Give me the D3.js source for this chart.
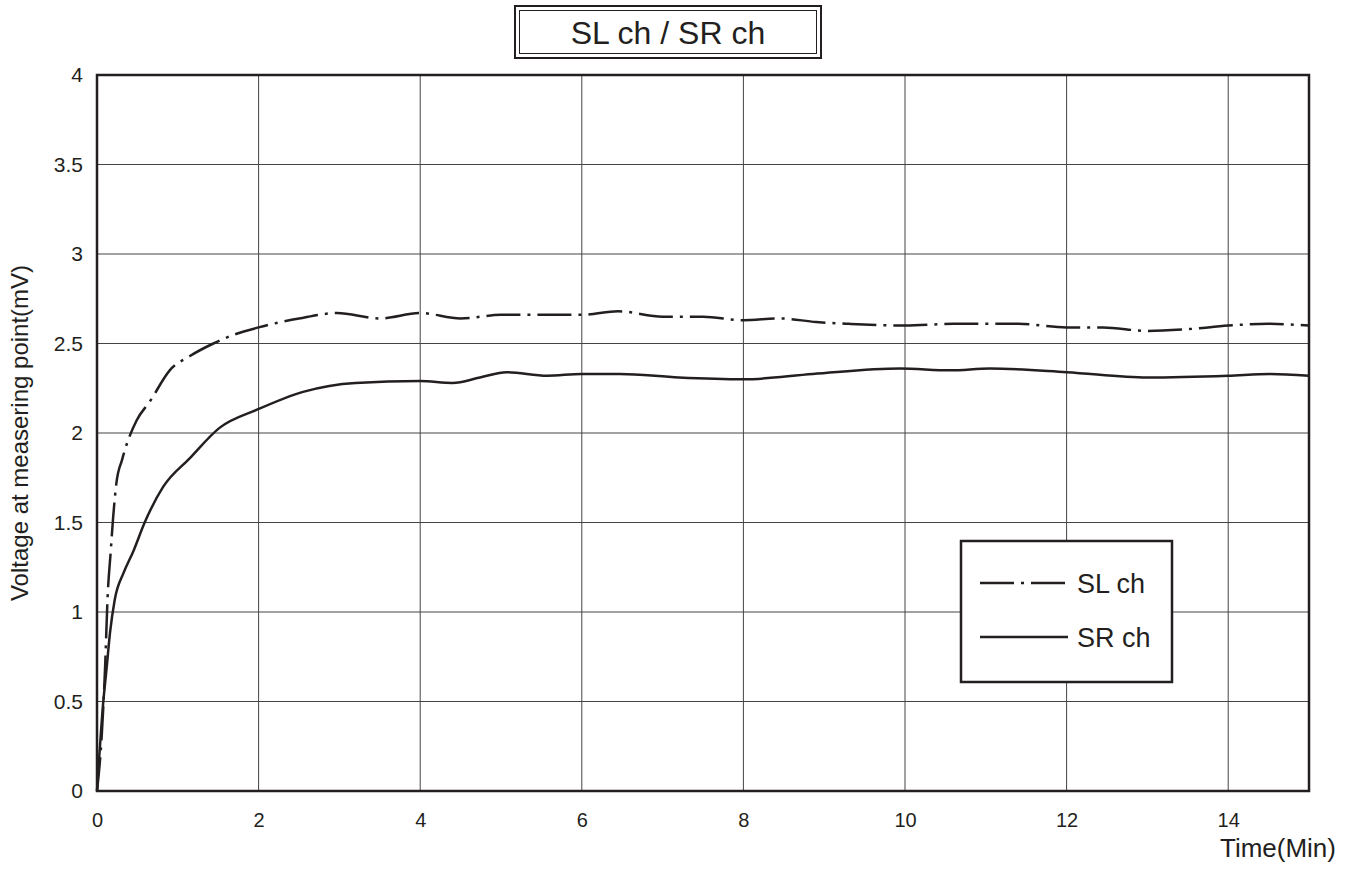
<!DOCTYPE html>
<html>
<head>
<meta charset="utf-8">
<script src="https://cdn.jsdelivr.net/npm/d3@7"></script>
<style>
  body { margin: 0; background: #fff; }
  text { font-family: "Liberation Sans", Arial, sans-serif; fill: #231f20; }
</style>
</head>
<body>
<div id="chart"></div>
<script>
/* DATA */
const slTime = [0, 0.06, 0.1, 0.13, 0.17, 0.2, 0.24, 0.31, 0.37, 0.49, 0.66, 0.9, 1.15, 1.44, 1.7, 2.0, 2.5, 2.97, 3.5, 4.0, 4.5, 5.0, 5.5, 6.0, 6.45, 7.0, 7.5, 8.0, 8.45, 8.9, 9.3, 10.0, 10.6, 11.4, 12.0, 12.45, 13.0, 13.5, 14.0, 14.5, 15.0];
const slVolt = [0, 0.32, 0.69, 1.07, 1.34, 1.53, 1.72, 1.85, 1.94, 2.07, 2.18, 2.35, 2.43, 2.5, 2.55, 2.59, 2.64, 2.67, 2.64, 2.67, 2.64, 2.66, 2.66, 2.66, 2.68, 2.65, 2.65, 2.63, 2.64, 2.62, 2.61, 2.6, 2.61, 2.61, 2.59, 2.59, 2.57, 2.58, 2.6, 2.61, 2.6];

const srTime = [0, 0.08, 0.12, 0.16, 0.22, 0.33, 0.45, 0.59, 0.82, 1.15, 1.52, 1.98, 2.55, 3.2, 4.0, 4.4, 4.74, 5.07, 5.57, 6.0, 6.47, 7.2, 8.0, 8.86, 9.94, 10.56, 11.05, 12.0, 13.0, 14.0, 14.52, 15.0];
const srVolt = [0, 0.51, 0.69, 0.88, 1.07, 1.22, 1.34, 1.5, 1.7, 1.86, 2.03, 2.13, 2.23, 2.28, 2.29, 2.28, 2.31, 2.34, 2.32, 2.33, 2.33, 2.31, 2.30, 2.33, 2.36, 2.35, 2.36, 2.34, 2.31, 2.32, 2.33, 2.32];

const xTicks = [0, 2, 4, 6, 8, 10, 12, 14];
const yTicks = [0, 0.5, 1, 1.5, 2, 2.5, 3, 3.5, 4];
const seriesNames = ["SL ch", "SR ch"];
const dashStyles = ["34,7,3,7", null];

/* LAYOUT */
const width = 1356, height = 869,
  margin = { top: 75, bottom: 78, left: 97, right: 47 };

const svg = d3.select("#chart").append("svg")
  .attr("width", width)
  .attr("height", height);

const xScale = d3.scaleLinear().domain([0, 15]).range([margin.left, width - margin.right]);
const yScale = d3.scaleLinear().domain([0, 4]).range([height - margin.bottom, margin.top]);

// grid
svg.append("g").selectAll("line")
  .data(xTicks.filter(d => d > 0))
  .join("line")
  .attr("x1", d => xScale(d)).attr("x2", d => xScale(d))
  .attr("y1", yScale(4)).attr("y2", yScale(0))
  .attr("stroke", "#444").attr("stroke-width", 1);

svg.append("g").selectAll("line")
  .data(yTicks.filter(d => d > 0 && d < 4))
  .join("line")
  .attr("x1", xScale(0)).attr("x2", xScale(15))
  .attr("y1", d => yScale(d)).attr("y2", d => yScale(d))
  .attr("stroke", "#444").attr("stroke-width", 1);

// axes (labels only, frame drawn separately)
const xAxis = svg.append("g")
  .attr("transform", `translate(0,${yScale(0)})`)
  .call(d3.axisBottom(xScale).tickValues(xTicks).tickSize(0).tickPadding(22).tickFormat(d3.format("d")));
xAxis.select(".domain").remove();
xAxis.selectAll("text").style("font-size", "20px").attr("fill", "#231f20");

const yAxis = svg.append("g")
  .attr("transform", `translate(${xScale(0)},0)`)
  .call(d3.axisLeft(yScale).tickValues(yTicks).tickSize(0).tickPadding(14).tickFormat(d => d));
yAxis.select(".domain").remove();
yAxis.selectAll("text").style("font-size", "21px").attr("fill", "#231f20");

// lines
const line = d3.line()
  .x(d => xScale(d[0]))
  .y(d => yScale(d[1]))
  .curve(d3.curveMonotoneX);

const slData = slTime.map((t, i) => [t, slVolt[i]]);
const srData = srTime.map((t, i) => [t, srVolt[i]]);

svg.append("path")
  .datum(srData)
  .attr("d", line)
  .attr("fill", "none")
  .attr("stroke", "#231f20")
  .attr("stroke-width", 2.5);

svg.append("path")
  .datum(slData)
  .attr("d", line)
  .attr("fill", "none")
  .attr("stroke", "#231f20")
  .attr("stroke-width", 2.5)
  .attr("stroke-dasharray", dashStyles[0]);

// frame
svg.append("rect")
  .attr("x", xScale(0)).attr("y", yScale(4))
  .attr("width", xScale(15) - xScale(0))
  .attr("height", yScale(0) - yScale(4))
  .attr("fill", "none")
  .attr("stroke", "#231f20")
  .attr("stroke-width", 2.5);

// axis titles
svg.append("text")
  .attr("x", 1336).attr("y", 857)
  .attr("text-anchor", "end")
  .style("font-size", "26px")
  .text("Time(Min)");

svg.append("text")
  .attr("transform", "translate(28,433) rotate(-90)")
  .attr("text-anchor", "middle")
  .style("font-size", "24px")
  .text("Voltage at measering point(mV)");

// title with double border
svg.append("rect")
  .attr("x", 515).attr("y", 6).attr("width", 306).attr("height", 52)
  .attr("fill", "#fff").attr("stroke", "#231f20").attr("stroke-width", 2);
svg.append("rect")
  .attr("x", 519.5).attr("y", 10.5).attr("width", 297).attr("height", 43)
  .attr("fill", "none").attr("stroke", "#231f20").attr("stroke-width", 1);
svg.append("text")
  .attr("x", 668).attr("y", 44)
  .attr("text-anchor", "middle")
  .style("font-size", "32px")
  .text("SL ch / SR ch");

// legend
const legend = svg.append("g");
legend.append("rect")
  .attr("x", 961).attr("y", 541).attr("width", 211).attr("height", 141)
  .attr("fill", "#fff").attr("stroke", "#231f20").attr("stroke-width", 2.5);

const legendY = [583, 637];
legend.selectAll("line")
  .data(seriesNames)
  .join("line")
  .attr("x1", 980).attr("x2", (d, i) => i === 0 ? 1065 : 1068)
  .attr("y1", (d, i) => legendY[i]).attr("y2", (d, i) => legendY[i])
  .attr("stroke", "#231f20").attr("stroke-width", 2.5)
  .attr("stroke-dasharray", (d, i) => dashStyles[i]);

legend.selectAll("text")
  .data(seriesNames)
  .join("text")
  .attr("x", 1077)
  .attr("y", (d, i) => legendY[i] + 10)
  .style("font-size", "27px")
  .text(d => d);
</script>
</body>
</html>
